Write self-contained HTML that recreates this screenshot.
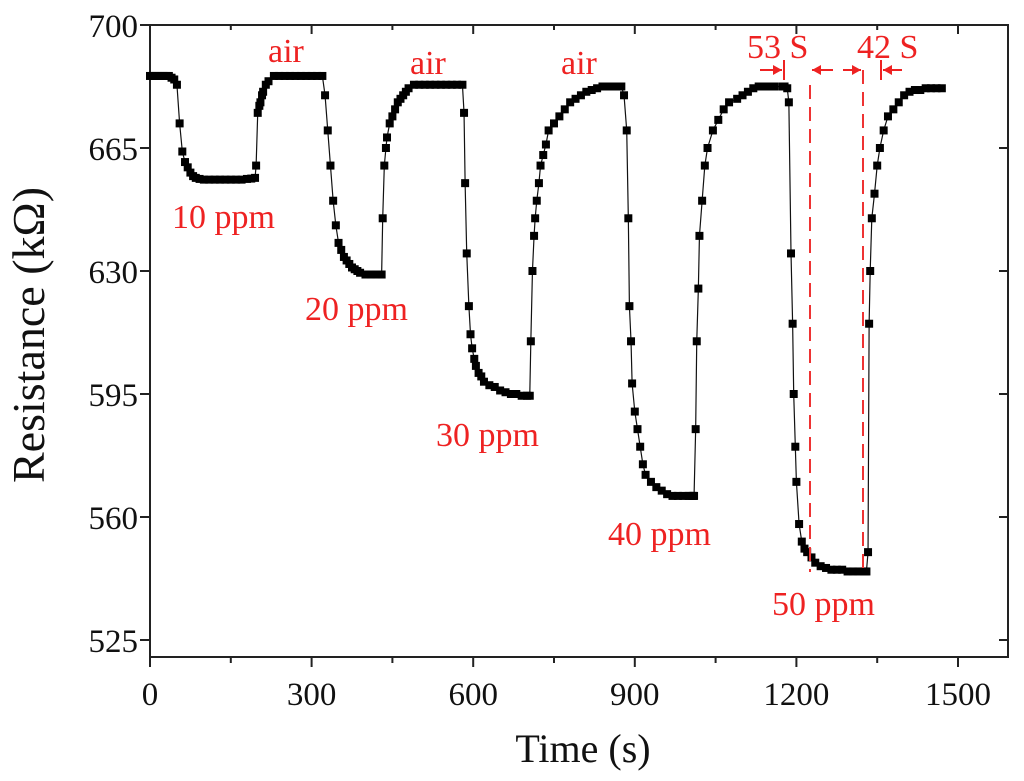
<!DOCTYPE html>
<html><head><meta charset="utf-8"><style>
html,body{margin:0;padding:0;background:#fff;}
svg{display:block;font-family:"Liberation Serif",serif;}
</style></head><body>
<svg id="chart" width="1024" height="781">
<g id="axes"></g>
<g id="series"></g>
<g id="annot"></g>
</svg>
<script>
const xTicks=[0,300,600,900,1200,1500];
const yTicks=[525,560,595,630,665,700];
const times=[0,5,10,15,20,25,30,35,40,45,50,55,60,65,70,75,80,85,92,100,110,120,130,140,150,160,170,180,188,195,197,200,203,205,208,210,215,220,230,240,250,260,270,280,290,300,310,320,325,330,335,340,345,350,355,360,365,370,375,380,385,390,400,410,420,430,432,435,438,440,445,450,455,460,465,470,475,480,490,500,510,520,530,540,550,560,570,580,583,585,588,592,595,598,602,605,610,615,620,630,640,650,660,670,680,690,700,705,707,710,713,715,718,722,725,730,735,740,750,760,770,780,790,800,810,820,830,840,850,860,870,872,875,880,885,888,890,893,895,900,905,910,915,920,930,940,950,960,970,980,990,1000,1005,1008,1010,1013,1015,1018,1020,1025,1030,1035,1045,1055,1065,1075,1090,1100,1110,1120,1130,1140,1150,1160,1175,1178,1183,1186,1190,1193,1195,1198,1200,1205,1210,1215,1220,1228,1235,1245,1255,1265,1275,1285,1295,1305,1315,1325,1327,1330,1333,1335,1337,1340,1345,1350,1355,1362,1370,1380,1390,1400,1410,1420,1430,1440,1450,1460,1470];
const resist=[685.5,685.5,685.5,685.5,685.5,685.5,685.5,685.5,685,684.5,683,672,664,661,659.5,658,657,656.5,656.2,656,656,656,656,656,656,656,656,656.2,656.3,656.5,660,675,677,678,680,681,683,684,685.5,685.5,685.5,685.5,685.5,685.5,685.5,685.5,685.5,685.5,680,670,660,650,643,638,636,634,633,632,631,630.5,630,629.5,629,629,629,629,645,660,665,668,672,674,676,678,679,680,681,682,683,683,683,683,683,683,683,683,683,683,675,655,635,620,612,608,605,603,601,600,598.5,597.5,597,596,595.5,595,595,594.5,594.5,594.5,610,630,640,645,650,655,660,663,666,670,672,674,676,678,679,680,681,681.5,682,682.5,682.5,682.5,682.5,682.5,682.5,680,670,645,620,610,598,590,585,580,575,572,570,568.5,567.5,566.5,566,566,566,566,566,566,566,585,610,625,640,650,660,665,670,673,676,678,679,680,681,682,682.5,682.5,682.5,682.5,682.5,682.5,682,678,635,615,595,580,570,558,553,551,550,548.5,547,546,545.5,545,545,545,544.5,544.5,544.5,544.5,544.5,544.5,550,615,630,645,652,660,665,670,674,676,678,680,681,681.5,681.5,682,682,682,682,682,682,682];
const X0=150,XS=(958-150)/1500,Y0=25,YS=(640-25)/175;
const sx=t=>X0+t*XS, sy=r=>Y0+(700-r)*YS;
const NS="http://www.w3.org/2000/svg";
function mk(tag,at,parent,txt){const e=document.createElementNS(NS,tag);for(const k in at)e.setAttribute(k,at[k]);if(txt!==undefined)e.textContent=txt;parent.appendChild(e);return e;}
const ax=document.getElementById('axes');
const L=150,R=1008,T=25,B=657;
let f=mk('rect',{x:L,y:T,width:R-L,height:B-T,fill:'none',stroke:'#222','stroke-width':2},ax);


xTicks.forEach(v=>{const x=sx(v);
 mk('line',{x1:x,y1:B,x2:x,y2:B+10,stroke:'#222','stroke-width':2},ax);
 mk('line',{x1:x,y1:T,x2:x,y2:T+9,stroke:'#222','stroke-width':2},ax);
 const m=sx(v+150); if(m<R){mk('line',{x1:m,y1:B,x2:m,y2:B+6,stroke:'#222','stroke-width':2},ax);mk('line',{x1:m,y1:T,x2:m,y2:T+5,stroke:'#222','stroke-width':2},ax);}
 const t=mk('text',{x:x,y:B+48,'text-anchor':'middle','font-size':33,fill:'#111'},ax,String(v));
 
 
});
yTicks.forEach(v=>{const y=sy(v);
 mk('line',{x1:L,y1:y,x2:L-10,y2:y,stroke:'#222','stroke-width':2},ax);
 mk('line',{x1:R,y1:y,x2:R-9,y2:y,stroke:'#222','stroke-width':2},ax);
 const t=mk('text',{x:L-12,y:y+12,'text-anchor':'end','font-size':33,fill:'#111'},ax,String(v));
 
 
});
let xt=mk('text',{x:583,y:762,'text-anchor':'middle','font-size':40,fill:'#111'},ax,'Time (s)');


let yt=mk('text',{x:0,y:0,'text-anchor':'middle','font-size':46,fill:'#111',transform:'translate(44,335) rotate(-90)'},ax,'Resistance (kΩ)');


const sg=document.getElementById('series');
let pts=times.map((t,i)=>sx(t)+','+sy(resist[i])).join(' ');
let pl=mk('polyline',{points:pts,fill:'none',stroke:'#111','stroke-width':1.2},sg);


times.forEach((t,i)=>{const r=mk('rect',{x:sx(t)-4,y:sy(resist[i])-4,width:8,height:8,fill:'#000'},sg);
 
 
});
const an=document.getElementById('annot');
const labels=[['10 ppm',172,228],['air',268,62],['20 ppm',305,320],['air',410,74],['30 ppm',436,446],['air',561,74],['40 ppm',608,545],['50 ppm',772,615],['53 S',747,58],['42 S',857,58]];
labels.forEach(l=>{const t=mk('text',{x:l[1],y:l[2],'font-size':34,fill:'#ee2222'},an,l[0]);
 
 
});
[[810,85,810,572],[863,70,863,572]].forEach(d=>{const ln=mk('line',{x1:d[0],y1:d[1],x2:d[2],y2:d[3],stroke:'#ee3333','stroke-width':2,'stroke-dasharray':'14,8'},an);
 
 
});
mk('line',{x1:784,y1:60,x2:784,y2:80,stroke:'#ee2222','stroke-width':2},an);
mk('line',{x1:881,y1:60,x2:881,y2:80,stroke:'#ee2222','stroke-width':2},an);
[[760,782],[833,812],[843,861],[902,883]].forEach(a=>{const d=a[1]>a[0]?1:-1;
 const g=mk('g',{},an);
 
 
 mk('line',{x1:a[0],y1:70,x2:a[1],y2:70,stroke:'#ee2222','stroke-width':2},g);
 mk('polygon',{points:`${a[1]},70 ${a[1]-d*9},65 ${a[1]-d*9},75`,fill:'#ee2222'},g);
});
</script>
</body></html>
